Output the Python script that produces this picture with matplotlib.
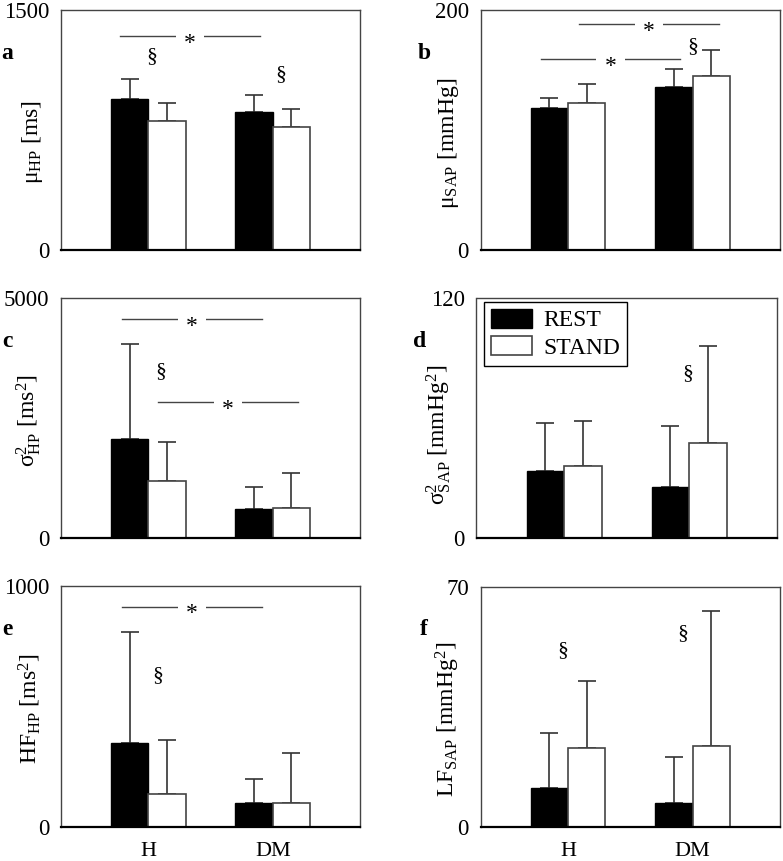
import matplotlib
matplotlib.use("Agg")
import matplotlib.pyplot as plt
import numpy as np

plt.rcParams['font.family'] = ['Liberation Serif', 'DejaVu Serif']
plt.rcParams['mathtext.fontset'] = 'custom'
plt.rcParams['mathtext.rm'] = 'Liberation Serif'
plt.rcParams['mathtext.it'] = 'Liberation Serif:italic'
plt.rcParams['mathtext.bf'] = 'Liberation Serif:bold'

# ---------------- data ----------------
groups = ['H', 'DM']
conditions = ['REST', 'STAND']

mu_hp_rest = [946, 862]
mu_hp_rest_sd = [125, 106]
mu_hp_stand = [806, 771]
mu_hp_stand_sd = [115, 112]

mu_sap_rest = [118.0, 135.6]
mu_sap_rest_sd = [9.0, 15.5]
mu_sap_stand = [122.5, 145.0]
mu_sap_stand_sd = [15.8, 21.4]

var_hp_rest = [2055, 606]
var_hp_rest_sd = [1990, 446]
var_hp_stand = [1184, 614]
var_hp_stand_sd = [808, 731]

var_sap_rest = [33.6, 25.6]
var_sap_rest_sd = [23.7, 30.5]
var_sap_stand = [36.1, 47.6]
var_sap_stand_sd = [22.2, 48.6]

hf_hp_rest = [348, 100]
hf_hp_rest_sd = [459, 98]
hf_hp_stand = [134, 100]
hf_hp_stand_sd = [225, 207]

lf_sap_rest = [11.4, 7.0]
lf_sap_rest_sd = [15.8, 13.2]
lf_sap_stand = [22.9, 23.6]
lf_sap_stand_sd = [19.5, 39.3]

y_max = [1500, 200, 5000, 120, 1000, 70]
panel_letters = ['a', 'b', 'c', 'd', 'e', 'f']
y_labels = [r'μ$_{\mathrm{HP}}$ [ms]',
            r'μ$_{\mathrm{SAP}}$ [mmHg]',
            r'σ$^{2}_{\mathrm{HP}}$ [ms$^{2}$]',
            r'σ$^{2}_{\mathrm{SAP}}$ [mmHg$^{2}$]',
            r'HF$_{\mathrm{HP}}$ [ms$^{2}$]',
            r'LF$_{\mathrm{SAP}}$ [mmHg$^{2}$]']

# significance bars: (x_start, x_end, y) in data units, '*' between groups
sig_lines = [
    [(-0.23, 0.90, 1337)],
    [(0.09, 1.21, 188.3), (-0.22, 0.90, 158.9)],
    [(-0.21, 0.91, 4561), (0.08, 1.20, 2828)],
    [],
    [(-0.21, 0.91, 913)],
    [],
]
# section marks (x, y) in data units, REST vs STAND
sect_marks = [
    [(0.03, 1206), (1.06, 1094)],
    [(1.00, 169.4)],
    [(0.10, 3467)],
    [(0.99, 82.4)],
    [(0.08, 629)],
    [(-0.04, 51.5), (0.92, 56.4)],
]

rest_vals = [mu_hp_rest, mu_sap_rest, var_hp_rest, var_sap_rest, hf_hp_rest, lf_sap_rest]
rest_sds = [mu_hp_rest_sd, mu_sap_rest_sd, var_hp_rest_sd, var_sap_rest_sd, hf_hp_rest_sd, lf_sap_rest_sd]
stand_vals = [mu_hp_stand, mu_sap_stand, var_hp_stand, var_sap_stand, hf_hp_stand, lf_sap_stand]
stand_sds = [mu_hp_stand_sd, mu_sap_stand_sd, var_hp_stand_sd, var_sap_stand_sd, hf_hp_stand_sd, lf_sap_stand_sd]

# ---------------- layout (pixels: left, top, right, bottom) ----------------
W, H = 783, 861
rects = [(61, 10, 360, 250), (480.7, 10, 780, 250),
         (61, 298.3, 360, 537.7), (476.5, 298.3, 776.5, 537.7),
         (61, 585.7, 360, 826.7), (480.7, 586.7, 780, 826.7)]
label_pos = [(-0.094, 0.452), (-0.109, 0.446), (-0.11, 0.49),
             (-0.125, 0.43), (-0.104, 0.488), (-0.11, 0.445)]

fig = plt.figure(figsize=(W / 100, H / 100), dpi=100)

x = np.arange(len(groups))
bw = 0.30
err_col = '#333333'
edge_gray = '#444444'

for i in range(6):
    l, t, r, b = rects[i]
    ax = fig.add_axes([l / W, 1 - b / H, (r - l) / W, (b - t) / H])
    rv, rs = rest_vals[i], rest_sds[i]
    sv, ss = stand_vals[i], stand_sds[i]
    b1 = ax.bar(x - bw / 2, rv, bw, color='black', edgecolor='black', linewidth=1, zorder=2,
                label='REST')
    b2 = ax.bar(x + bw / 2, sv, bw, color='white', edgecolor=edge_gray, linewidth=1.2, zorder=2,
                label='STAND')
    ax.errorbar(x - bw / 2, rv, yerr=[np.zeros(len(rv)), rs], fmt='none', ecolor=err_col,
                elinewidth=1.2, capsize=6.5, capthick=1.2, zorder=1)
    ax.errorbar(x + bw / 2, sv, yerr=[np.zeros(len(sv)), ss], fmt='none', ecolor=err_col,
                elinewidth=1.2, capsize=6.5, capthick=1.2, zorder=1)

    ax.set_xlim(-0.70, 1.70)
    ax.set_ylim(0, y_max[i])
    ax.set_yticks([0, y_max[i]])
    ax.set_yticklabels(['0', str(y_max[i])])
    ax.tick_params(axis='y', length=0, pad=8.6, labelsize=16.5)
    if i >= 4:
        ax.set_xticks(x)
        ax.set_xticklabels(groups)
        ax.tick_params(axis='x', length=0, pad=11, labelsize=16)
    else:
        ax.set_xticks([])

    for side in ['left', 'top', 'right']:
        ax.spines[side].set_color('#444444')
        ax.spines[side].set_linewidth(1.0)
    ax.spines['bottom'].set_color('black')
    ax.spines['bottom'].set_linewidth(1.6)
    ax.spines['bottom'].set_zorder(3)

    # y label
    lx, ly = label_pos[i]
    ax.text(lx, ly, y_labels[i], transform=ax.transAxes, rotation=90,
            ha='center', va='center', fontsize=17)
    # panel letter
    let_x = -0.18 if i % 2 == 0 else -0.19
    ax.text(let_x, 0.82, panel_letters[i], transform=ax.transAxes, fontsize=17,
            fontweight='bold', ha='center', va='center')

    for (xa, xb, yy) in sig_lines[i]:
        ax.plot([xa, xb], [yy, yy], color='#444444', lw=1.0, zorder=1)
        ax.annotate('*', xy=((xa + xb) / 2, yy), xytext=(0, -9), textcoords='offset points',
                    ha='center', va='baseline', fontsize=17,
                    bbox=dict(boxstyle='square,pad=0.35', fc='white', ec='none'), zorder=2)
    for (xs, ys) in sect_marks[i]:
        ax.text(xs, ys, '§', ha='center', va='center', fontsize=15.5)

    if i == 3:
        leg = ax.legend(handles=[b1, b2], labels=conditions, loc='upper left',
                        bbox_to_anchor=((484 - l) / (r - l), 1 - (301.7 - t) / (b - t)),
                        borderaxespad=0, frameon=True, fancybox=False, edgecolor='black',
                        framealpha=1, fontsize=17, handlelength=1.75, handleheight=0.85,
                        handletextpad=0.45, labelspacing=0.2, borderpad=0.3)
        leg.get_frame().set_linewidth(1.0)

fig.savefig('out.png', dpi=100)
